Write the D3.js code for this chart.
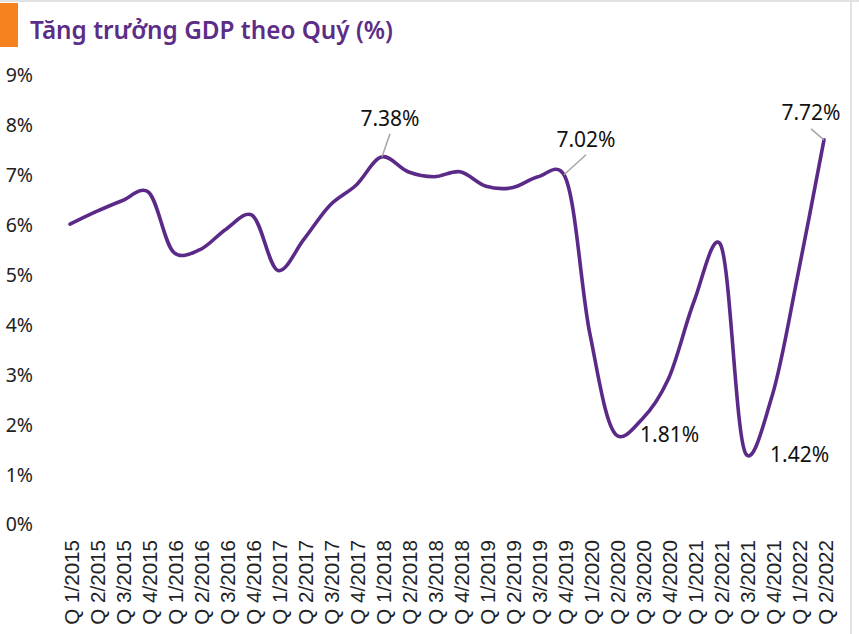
<!DOCTYPE html>
<html><head><meta charset="utf-8">
<script src="https://cdn.jsdelivr.net/npm/d3@7"></script>
<style>body{margin:0;background:#fff}svg{display:block}</style>
</head><body>
<svg id="c" width="859" height="634"></svg>
<script>
const categories = ["Q 1/2015","Q 2/2015","Q 3/2015","Q 4/2015","Q 1/2016","Q 2/2016","Q 3/2016","Q 4/2016","Q 1/2017","Q 2/2017","Q 3/2017","Q 4/2017","Q 1/2018","Q 2/2018","Q 3/2018","Q 4/2018","Q 1/2019","Q 2/2019","Q 3/2019","Q 4/2019","Q 1/2020","Q 2/2020","Q 3/2020","Q 4/2020","Q 1/2021","Q 2/2021","Q 3/2021","Q 4/2021","Q 1/2022","Q 2/2022"];
const gdp = [6.03,6.28,6.50,6.68,5.46,5.52,5.93,6.21,5.10,5.73,6.41,6.81,7.38,7.08,6.98,7.08,6.79,6.76,6.98,7.02,3.82,1.81,2.12,2.91,4.48,5.64,1.42,2.58,5.03,7.72];
const yTicks = [0,1,2,3,4,5,6,7,8,9];
const annotations = [
  {cat:"Q 1/2018", text:"7.38%"},
  {cat:"Q 4/2019", text:"7.02%"},
  {cat:"Q 2/2020", text:"1.81%"},
  {cat:"Q 3/2021", text:"1.42%"},
  {cat:"Q 2/2022", text:"7.72%"}
];
const title = "Tăng trưởng GDP theo Quý (%)";

const svg = d3.select("#c");
const x = d3.scalePoint().domain(categories).range([70, 824]);
const y = d3.scaleLinear().domain([0, 9]).range([525, 76]);

// frame decorations
svg.append("rect").attr("x",0).attr("y",0).attr("width",859).attr("height",2).attr("fill","#e2e2e2");
svg.append("rect").attr("x",850).attr("y",0).attr("width",2).attr("height",634).attr("fill","#e2e2e2");
svg.append("rect").attr("x",0).attr("y",3).attr("width",18).attr("height",44).attr("fill","#f5821f");

svg.append("text").attr("x",30).attr("y",39)
  .attr("font-family","'Noto Sans', sans-serif").attr("font-weight",600).attr("font-size",25)
  .attr("fill","#5c2d86").attr("textLength",363).attr("lengthAdjust","spacingAndGlyphs")
  .text(title);

// y axis labels
svg.append("g").selectAll("text").data(yTicks).join("text")
  .attr("x",33).attr("y",d=>y(d)).attr("dy","0.33em")
  .attr("text-anchor","end")
  .attr("font-family","'Noto Sans', sans-serif").attr("font-size",19.5).attr("fill","#222")
  .text(d=>d+"%");

// x axis labels
svg.append("g").selectAll("text").data(categories).join("text")
  .attr("transform",d=>`translate(${x(d)+2},540) rotate(-90)`)
  .attr("dy","0.35em").attr("text-anchor","end")
  .attr("font-family","'Liberation Sans', Arial, sans-serif").attr("font-size",20.6).attr("fill","#222")
  .text(d=>d);

// line
const data = categories.map((c,i)=>({c, v:gdp[i]}));
svg.append("path").datum(data)
  .attr("fill","none").attr("stroke","#5b2a88").attr("stroke-width",3.6)
  .attr("stroke-linejoin","round").attr("stroke-linecap","round")
  .attr("d", d3.line().x(d=>x(d.c)).y(d=>y(d.v)).curve(d3.curveCatmullRom.alpha(0.25)));

// annotations
const labelPos = {
  "Q 1/2018": {dx:8, dy:-31, lx1:8, ly1:-23, anchor:"middle"},
  "Q 4/2019": {dx:22, dy:-28, lx1:22, ly1:-20, anchor:"middle"},
  "Q 2/2020": {dx:24, dy:7, anchor:"start"},
  "Q 3/2021": {dx:24, dy:8, anchor:"start"},
  "Q 2/2022": {dx:-13, dy:-20, lx1:-13, ly1:-11, anchor:"middle"}
};
const ag = svg.append("g");
annotations.forEach(a=>{
  const v = gdp[categories.indexOf(a.cat)];
  const px = x(a.cat), py = y(v);
  const p = labelPos[a.cat];
  if (p.lx1 !== undefined) {
    ag.append("line").attr("x1",px+p.lx1).attr("y1",py+p.ly1).attr("x2",px).attr("y2",py)
      .attr("stroke","#a6a6a6").attr("stroke-width",1.5);
  }
  ag.append("text").attr("x",px+p.dx).attr("y",py+p.dy)
    .attr("text-anchor",p.anchor)
    .attr("font-family","'Noto Sans', sans-serif").attr("font-size",21).attr("fill","#111")
    .text(a.text);
});
</script>
</body></html>
